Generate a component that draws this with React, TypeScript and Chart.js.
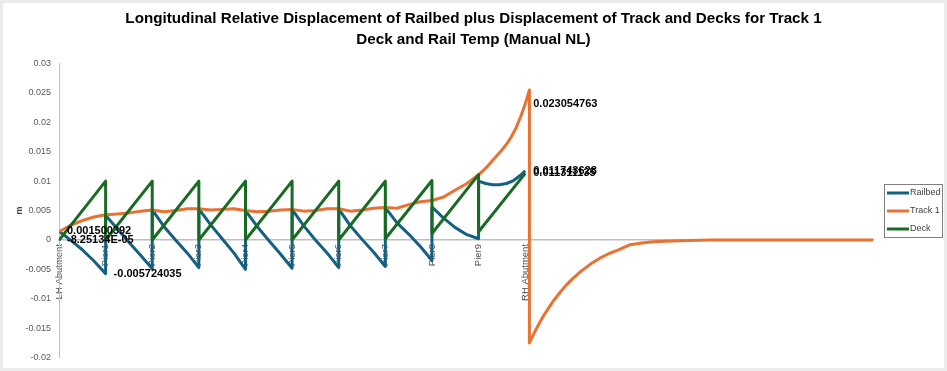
import React, { useEffect, useRef } from 'react';
import { Chart, registerables } from 'chart.js';

Chart.register(...registerables);

// ---------- text ----------
const TITLE_LINES = [
  'Longitudinal Relative Displacement of Railbed plus Displacement of Track and Decks for Track 1',
  'Deck and Rail Temp (Manual NL)',
];
const Y_TITLE = 'm';
const SERIES_NAMES = ['Railbed', 'Track 1', 'Deck'];

// ---------- axes ----------
const TICK_X = [0, 1, 2, 3, 4, 5, 6, 7, 8, 9, 10];
const TICK_LABELS = [
  'LH Abutment', 'Pier1', 'Pier2', 'Pier3', 'Pier4', 'Pier5',
  'Pier6', 'Pier7', 'Pier8', 'Pier9', 'RH Abutment',
];
const X_MIN = 0;
const X_MAX = 17.46;
const Y_MIN = -0.02;
const Y_MAX = 0.03;
const Y_STEP = 0.005;

// ---------- series ----------
const RAILBED_X = [
  0, 0.25, 0.5, 0.75, 1,
  1, 1.25, 1.5, 1.75, 2,
  2, 2.25, 2.5, 2.75, 3,
  3, 3.25, 3.5, 3.75, 4,
  4, 4.25, 4.5, 4.75, 5,
  5, 5.25, 5.5, 5.75, 6,
  6, 6.25, 6.5, 6.75, 7,
  7, 7.25, 7.5, 7.75, 8,
  8, 8.25, 8.5, 8.75, 9,
  9, 9.15, 9.3, 9.45, 9.6, 9.75, 9.9, 10,
];
const RAILBED_Y = [
  0.001500392, -0.00004, -0.00166, -0.00358, -0.005724035,
  0.0042, 0.0019, -0.0004, -0.0026, -0.0049,
  0.0051, 0.0023, 0.0, -0.0022, -0.0047,
  0.0053, 0.0026, 0.0002, -0.0022, -0.005,
  0.005, 0.0023, -0.0001, -0.0024, -0.0048,
  0.0052, 0.0024, 0.0, -0.0022, -0.0047,
  0.0053, 0.0024, 0.0001, -0.0021, -0.0045,
  0.0055, 0.0029, 0.001, -0.0011, -0.0035,
  0.0056, 0.0037, 0.0021, 0.0009, 0.0002,
  0.0100, 0.0096, 0.0094, 0.0094, 0.0096, 0.0101, 0.0110, 0.011743628,
];

const TRACK_X = [
  0, 0.25, 0.5, 0.75, 1, 1.25, 1.5, 1.75, 2, 2.25, 2.5, 2.75, 3,
  3.25, 3.5, 3.75, 4, 4.25, 4.5, 4.75, 5, 5.25, 5.5, 5.75, 6,
  6.25, 6.5, 6.75, 7, 7.25, 7.5, 7.75, 8, 8.25, 8.5, 8.75, 9,
  9.1, 9.2, 9.3, 9.4, 9.5, 9.6, 9.7, 9.8, 9.9, 10, 10.09,
  10.09, 10.2, 10.3, 10.4, 10.5, 10.6, 10.7, 10.8, 10.9, 11,
  11.2, 11.4, 11.6, 11.8, 12, 12.25, 12.5, 12.75, 13, 13.5, 14, 17.46,
];
const TRACK_Y = [
  0.00142, 0.0025, 0.0033, 0.0039, 0.0043, 0.0044, 0.0046, 0.0049, 0.0051, 0.0048, 0.005, 0.0053, 0.0053,
  0.0051, 0.0052, 0.0053, 0.005, 0.0048, 0.0049, 0.0051, 0.0052, 0.0049, 0.005, 0.0053, 0.0053,
  0.0049, 0.0051, 0.0054, 0.0055, 0.0054, 0.006, 0.0065, 0.0067, 0.0073, 0.0085, 0.0096, 0.0111,
  0.0118, 0.0126, 0.0135, 0.0144, 0.0153, 0.0163, 0.0175, 0.019, 0.0209, 0.0231, 0.0255,
  -0.0175, -0.0157, -0.0142, -0.0128, -0.0116, -0.0104, -0.0094, -0.0084, -0.0075, -0.0067,
  -0.0053, -0.0041, -0.0031, -0.0023, -0.0017, -0.0008, -0.0005, -0.0003, -0.0002, -0.0001, 0, 0,
];

const DECK_X = [0, 1, 1, 2, 2, 3, 3, 4, 4, 5, 5, 6, 6, 7, 7, 8, 8, 9, 9, 10];
const DECK_Y = [
  -0.0000825134, 0.01, 0, 0.01, 0, 0.01, 0, 0.01, 0, 0.01, 0, 0.01, 0, 0.01,
  0.0002, 0.0101, 0.0011, 0.0111, 0.0014, 0.011311135,
];

// ---------- data labels (point x, point value, text) ----------
const LABEL_X = [0, 0, 1, 10, 10, 10];
const LABEL_Y = [0.001500392, -0.0000825134, -0.005724035, 0.023054763, 0.011743628, 0.011311135];
const LABEL_TEXT = ['0.001500392', '-8.25134E-05', '-0.005724035', '0.023054763', '0.011743628', '0.011311135'];

const COLORS = ['#156082', '#E97132', '#196B24'];
const FONT = "'Liberation Sans', Arial, sans-serif";

export default function App() {
  const ref = useRef<HTMLCanvasElement>(null);

  useEffect(() => {
    document.body.style.margin = '0';
    document.body.style.background = '#ebebeb';
    const canvas = ref.current;
    if (!canvas) return;

    const pts = (xs: number[], ys: number[]) => xs.map((x, i) => ({ x, y: ys[i] }));

    const framePlugin = {
      id: 'frame',
      beforeDraw(chart: any) {
        const { ctx, width, height } = chart;
        ctx.save();
        ctx.fillStyle = '#ebebeb';
        ctx.fillRect(0, 0, width, height);
        ctx.fillStyle = '#ffffff';
        ctx.fillRect(3, 3, width - 6, height - 6);
        ctx.restore();
      },
    };

    const titlePlugin = {
      id: 'twoLineTitle',
      afterDraw(chart: any) {
        const { ctx, width } = chart;
        ctx.save();
        ctx.fillStyle = '#000000';
        ctx.font = `bold 15.2px ${FONT}`;
        ctx.textAlign = 'center';
        ctx.textBaseline = 'middle';
        ctx.fillText(TITLE_LINES[0], width / 2, 19);
        ctx.fillText(TITLE_LINES[1], width / 2, 40);
        ctx.restore();
      },
    };

    const labelPlugin = {
      id: 'pointLabels',
      afterDatasetsDraw(chart: any) {
        const { ctx, scales } = chart;
        ctx.save();
        ctx.fillStyle = '#000000';
        ctx.font = `bold 11px ${FONT}`;
        ctx.textAlign = 'left';
        ctx.textBaseline = 'middle';
        LABEL_TEXT.forEach((t, i) => {
          const px = scales.x.getPixelForValue(LABEL_X[i]) + 8;
          const py = scales.y.getPixelForValue(LABEL_Y[i]);
          ctx.fillText(t, px, py);
        });
        ctx.restore();
      },
    };

    const legendPlugin = {
      id: 'boxLegend',
      afterDraw(chart: any) {
        const { ctx, chartArea } = chart;
        const w = 59;
        const h = 54;
        const left = chartArea.right + 11;
        const top = Math.round((chartArea.top + chartArea.bottom) / 2 - h / 2);
        ctx.save();
        ctx.fillStyle = '#ffffff';
        ctx.fillRect(left, top, w, h);
        ctx.strokeStyle = '#7f7f7f';
        ctx.lineWidth = 1;
        ctx.strokeRect(left + 0.5, top + 0.5, w - 1, h - 1);
        ctx.font = `9px ${FONT}`;
        ctx.textAlign = 'left';
        ctx.textBaseline = 'middle';
        SERIES_NAMES.forEach((name, i) => {
          const y = top + 9 + i * 18;
          ctx.strokeStyle = COLORS[i];
          ctx.lineWidth = 3;
          ctx.beginPath();
          ctx.moveTo(left + 3, y);
          ctx.lineTo(left + 25, y);
          ctx.stroke();
          ctx.fillStyle = '#404040';
          ctx.fillText(name, left + 26, y);
        });
        ctx.restore();
      },
    };

    const lineStyle = (i: number) => ({
      borderColor: COLORS[i],
      backgroundColor: COLORS[i],
      borderWidth: 3,
      pointRadius: 0,
      pointHoverRadius: 0,
      fill: false,
      tension: 0,
      borderJoinStyle: 'round' as const,
    });

    const chart = new Chart(canvas, {
      type: 'line',
      data: {
        datasets: [
          { label: SERIES_NAMES[0], data: pts(RAILBED_X, RAILBED_Y), ...lineStyle(0), order: 2 },
          { label: SERIES_NAMES[1], data: pts(TRACK_X, TRACK_Y), ...lineStyle(1), order: 1 },
          { label: SERIES_NAMES[2], data: pts(DECK_X, DECK_Y), ...lineStyle(2), order: 0 },
        ],
      },
      options: {
        responsive: false,
        devicePixelRatio: 1,
        animation: false,
        events: [],
        layout: { padding: { left: 3, top: 63.5, right: 74, bottom: 11 } },
        plugins: {
          legend: { display: false },
          title: { display: false },
          tooltip: { enabled: false },
        },
        scales: {
          x: {
            type: 'linear',
            min: X_MIN,
            max: X_MAX,
            position: { y: 0 } as any,
            grid: { display: false, drawTicks: false },
            border: { display: true, color: '#bfbfbf', width: 1.5 },
            afterBuildTicks: (scale: any) => {
              scale.ticks = TICK_X.map((v) => ({ value: v }));
            },
            ticks: {
              autoSkip: false,
              minRotation: 90,
              maxRotation: 90,
              padding: 4,
              color: '#505050',
              font: { family: FONT, size: 9.5 },
              callback: (_v: any, i: number) => TICK_LABELS[i],
            },
          },
          y: {
            type: 'linear',
            min: Y_MIN,
            max: Y_MAX,
            grid: { display: false, drawTicks: false },
            border: { display: true, color: '#bfbfbf', width: 1 },
            afterFit: (scale: any) => {
              scale.width = 56;
            },
            ticks: {
              stepSize: Y_STEP,
              padding: 8,
              color: '#595959',
              font: { family: FONT, size: 9 },
              callback: (v: any) => String(Math.round(Number(v) * 1000) / 1000),
            },
            title: {
              display: true,
              text: Y_TITLE,
              color: '#404040',
              font: { family: FONT, size: 9, weight: 'bold' },
              padding: { top: 11, bottom: 0 },
            },
          },
        },
      },
      plugins: [framePlugin, titlePlugin, labelPlugin, legendPlugin],
    } as any);

    return () => chart.destroy();
  }, []);

  return (
    <canvas
      ref={ref}
      width={947}
      height={371}
      style={{ display: 'block', width: 947, height: 371 }}
    />
  );
}
